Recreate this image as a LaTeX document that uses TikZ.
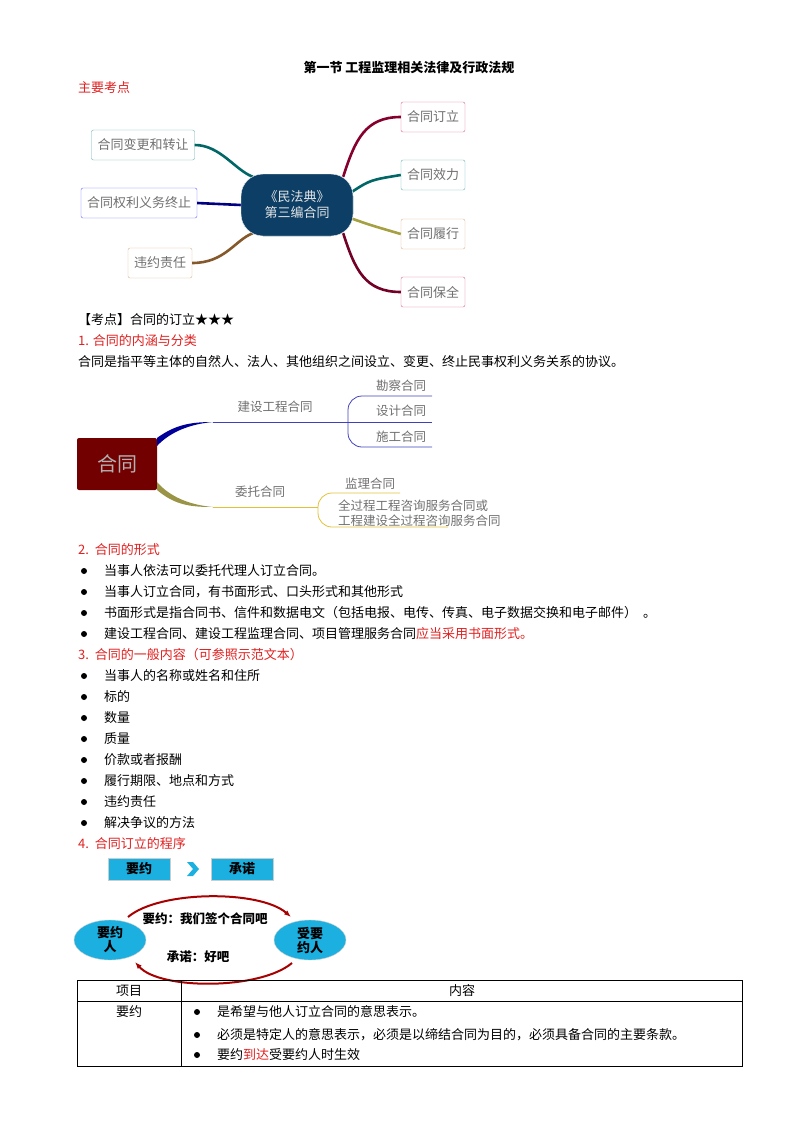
\documentclass[tikz,border=0pt]{standalone}
\usepackage{fontspec}
\setmainfont{Noto Sans CJK SC}
\usetikzlibrary{arrows.meta,shapes.geometric}
\definecolor{red1}{HTML}{E02020}
\definecolor{cblue}{HTML}{0D3F66}
\definecolor{mgray}{HTML}{707070}
\definecolor{sky}{HTML}{1CB0E0}
\tikzset{
 x=1pt,y=-1pt,
 txt/.style={anchor=west,inner sep=0,font=\fontsize{13}{15}\selectfont},
 rtxt/.style={txt,text=red1},
 mbox/.style={draw=#1!60,rounded corners=2pt,fill=white,text=mgray,minimum height=30,inner xsep=6pt,font=\fontsize{13}{15}\selectfont},
 br/.style={line width=2.6pt,#1},
 gl/.style={text=mgray,inner sep=0,font=\fontsize{12.5}{14}\selectfont},
 bul/.style={circle,fill=black,inner sep=0,minimum size=6},
 cnode/.style={draw=white,fill=cblue,rounded corners=22pt,minimum width=112,minimum height=62,text=white!80!gray,align=center,font=\fontsize{13}{16}\selectfont},
}
\begin{document}
\begin{tikzpicture}
\useasboundingbox (0,0) rectangle (800,1132);
\node[font=\fontsize{13}{15}\selectfont\bfseries,inner sep=0] (title) at (409,68) {第一节\ 工程监理相关法律及行政法规};
\node[rtxt] (k0) at (78,88) {主要考点};
% mind map 1
\node[cnode] (c) at (297,205) {《民法典》\\第三编合同};
\node[mbox=purple] (r1) at (433,117) {合同订立};
\node[mbox=teal] (r2) at (433,175) {合同效力};
\node[mbox=brown] (r3) at (433,234) {合同履行};
\node[mbox=purple] (r4) at (433,292) {合同保全};
\node[mbox=teal] (l1) at (143,145) {合同变更和转让};
\node[mbox=blue] (l2) at (139,203) {合同权利义务终止};
\node[mbox=brown] (l3) at (160,263) {违约责任};
\draw[br={color=purple!70!black}] (c.north east)++(-10,3) .. controls (355,140) and (365,117) .. (r1.west);
\draw[br={color=teal!80!black}] (c.east)++(-3,-12) .. controls (370,180) .. (r2.west);
\draw[br={color=yellow!60!black}] (c.east)++(-3,13) .. controls (370,225) .. (r3.west);
\draw[br={color=purple!60!black}] (c.south east)++(-10,-3) .. controls (355,270) and (365,292) .. (r4.west);
\draw[br={color=teal!80!black}] (c.north west)++(12,3) .. controls (235,170) and (220,145) .. (l1.east);
\draw[br={color=blue!50!black}] (c.west) -- (l2.east);
\draw[br={color=brown!70!black}] (c.south west)++(12,-3) .. controls (235,240) and (225,263) .. (l3.east);
\node[cnode] (c2) at (297,205) {《民法典》\\第三编合同};
% text
\node[txt] (t1) at (78,320) {【考点】合同的订立★★★};
\node[rtxt] (t2) at (78,341) {1. 合同的内涵与分类};
\node[txt] (t3) at (78,362) {合同是指平等主体的自然人、法人、其他组织之间设立、变更、终止民事权利义务关系的协议。};
% mind map 2
\node[fill=red!45!black,rounded corners=2pt,minimum width=80,minimum height=52,text=gray!60,font=\fontsize{20}{22}\selectfont] (h) at (117,464) {合同};
\coordinate (u1) at (213,422); \coordinate (u2) at (348,422);
\coordinate (d1) at (213,507); \coordinate (d2) at (318,507);
\fill[blue!60!black] (h.north east) .. controls (175,425) and (190,422) .. (u1) .. controls (190,424) and (170,432) .. ([yshift=-8]h.north east) -- cycle;
\fill[yellow!55!black] (h.south east) .. controls (175,505) and (190,507) .. (d1) .. controls (190,505) and (170,497) .. ([yshift=8]h.south east) -- cycle;
\draw[blue!50!gray,thick] (u1) -- (u2);
\draw[yellow!50!brown,thick] (d1) -- (d2);
\node[gl] (n1) at (275,407) {建设工程合同};
\node[gl] (n2) at (260,492) {委托合同};
\draw[blue!50!gray,thick,rounded corners=14pt] (432,396) -- (348,396) -- (348,447) -- (432,447);
\draw[blue!50!gray,thick] (u2) -- (432,422);
\node[gl] (s1) at (401,386) {勘察合同};
\node[gl] (s2) at (401,411) {设计合同};
\node[gl] (s3) at (401,437) {施工合同};
\draw[yellow!50!brown,thick,rounded corners=14pt] (400,493) -- (318,493) -- (318,527) -- (448,527);
\node[gl] (s4) at (370,484) {监理合同};
\node[gl,anchor=west] (s5) at (338,506) {全过程工程咨询服务合同或};
\node[gl,anchor=west] (s6) at (338,521) {工程建设全过程咨询服务合同};
% section 2
\node[rtxt] at (78,550) {2.\ \ 合同的形式};
\foreach \y/\t in {571/当事人依法可以委托代理人订立合同。,592/当事人订立合同，有书面形式、口头形式和其他形式,613/书面形式是指合同书、信件和数据电文（包括电报、电传、传真、电子数据交换和电子邮件）\ \ 。}{
 \node[bul] at (84,\y) {}; \node[txt] at (104,\y) {\t};}
\node[bul] at (84,634) {};
\node[txt] at (104,634) {建设工程合同、建设工程监理合同、项目管理服务合同\textcolor{red1}{应当采用书面形式。}};
\node[rtxt] at (78,655) {3.\ \ 合同的一般内容（可参照示范文本）};
\foreach \y/\t in {676/当事人的名称或姓名和住所,697/标的,718/数量,739/质量,760/价款或者报酬,781/履行期限、地点和方式,802/违约责任,823/解决争议的方法}{
 \node[bul] at (84,\y) {}; \node[txt] at (104,\y) {\t};}
\node[rtxt] at (78,844) {4.\ \ 合同订立的程序};
% process
\node[fill=sky,draw=gray!40,minimum width=62,minimum height=22,inner sep=0,font=\fontsize{13}{15}\selectfont\bfseries] (p1) at (139,869) {要约};
\node[fill=sky,draw=gray!40,minimum width=62,minimum height=22,inner sep=0,font=\fontsize{13}{15}\selectfont\bfseries] (p2) at (242,869) {承诺};
\fill[sky] (187,862) -- (193,862) -- (199,869) -- (193,876) -- (187,876) -- (193,869) -- cycle;
\node[ellipse,fill=sky,draw=gray!40,minimum width=72,minimum height=40,inner sep=0,align=center,font=\fontsize{13}{14}\selectfont\bfseries] (e1) at (110,940) {要约\\人};
\node[ellipse,fill=sky,draw=gray!40,minimum width=72,minimum height=40,inner sep=0,align=center,font=\fontsize{13}{14}\selectfont\bfseries] (e2) at (310,940) {受要\\约人};
\draw[red!65!black,line width=2pt,-{Latex[length=7pt]}] (128,917) .. controls (160,890) and (260,890) .. (291,917);
\draw[red!65!black,line width=2pt,-{Latex[length=7pt]}] (292,963) .. controls (260,990) and (160,990) .. (135,962);
\node[inner sep=0,font=\fontsize{12.5}{14}\selectfont\bfseries] (m1) at (205,919) {要约：我们签个合同吧};
\node[inner sep=0,font=\fontsize{12.5}{14}\selectfont\bfseries] (m2) at (198,957) {承诺：好吧};
% table
\draw[thin] (77,980) rectangle (742,1066);
\draw[thin] (77,1001) -- (742,1001);
\draw[thin] (181,980) -- (181,1066);
\node[inner sep=0,font=\fontsize{13}{15}\selectfont] at (129,991) {项目};
\node[inner sep=0,font=\fontsize{13}{15}\selectfont] at (462,991) {内容};
\node[inner sep=0,font=\fontsize{13}{15}\selectfont] at (129,1012) {要约};
\node[bul] at (197,1012) {}; \node[txt] at (217,1012) {是希望与他人订立合同的意思表示。};
\node[bul] at (197,1035) {}; \node[txt] at (217,1035) {必须是特定人的意思表示，必须是以缔结合同为目的，必须具备合同的主要条款。};
\node[bul] at (197,1055) {}; \node[txt] at (217,1055) {要约\textcolor{red1}{到达}受要约人时生效};
\end{tikzpicture}
\end{document}
